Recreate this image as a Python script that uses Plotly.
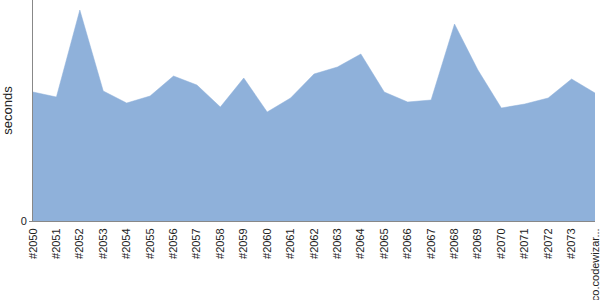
import plotly.graph_objects as go

builds = ["#2050", "#2051", "#2052", "#2053", "#2054", "#2055", "#2056", "#2057",
          "#2058", "#2059", "#2060", "#2061", "#2062", "#2063", "#2064", "#2065",
          "#2066", "#2067", "#2068", "#2069", "#2070", "#2071", "#2072", "#2073",
          "co.codewizar..."]
seconds = [129, 124, 211, 130, 118, 125, 145, 136, 114, 143, 109, 123, 147,
           154, 167, 129, 119, 121, 197, 151, 113, 117, 123, 142, 128]

fig = go.Figure()
fig.add_trace(go.Scatter(
    x=builds, y=seconds, mode="lines", fill="tozeroy",
    line=dict(color="#8fb1da", width=0.5),
    fillcolor="#8fb1da", hoverinfo="x+y",
))

fig.update_layout(
    width=600, height=300,
    margin=dict(l=33, r=5, t=0, b=79),
    plot_bgcolor="white", paper_bgcolor="white",
    showlegend=False,
    font=dict(family="Liberation Sans, Arial, sans-serif", size=11, color="#222"),
    xaxis=dict(
        type="category", range=[0, len(builds) - 1], automargin=False,
        tickangle=-90, showgrid=False, zeroline=False,
        showline=True, linecolor="#888", linewidth=1,
        ticks="", ticklabelstandoff=2, tickfont=dict(size=11, color="#222"),
    ),
    yaxis=dict(
        range=[0, 221], tickvals=[0], ticktext=["0"], automargin=False,
        showgrid=False, zeroline=False,
        showline=True, linecolor="#888", linewidth=1,
        ticks="outside", ticklen=3, tickcolor="#888",
        title=dict(text="seconds", font=dict(size=13, color="#222"), standoff=7),
        tickfont=dict(size=11, color="#222"),
    ),
)

fig.write_html("out.html")
